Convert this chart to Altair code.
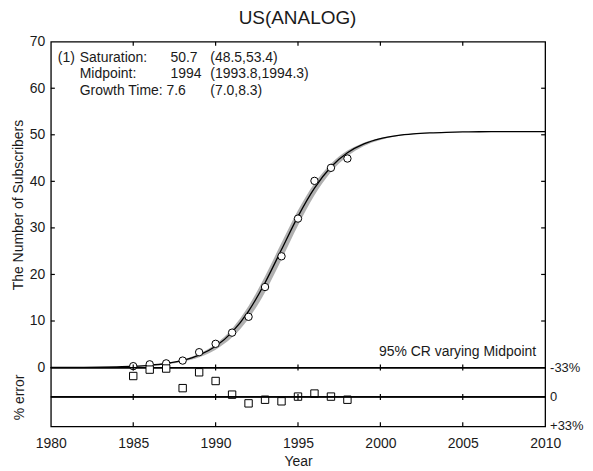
import altair as alt
import pandas as pd

# ---------------- data ----------------
years = [1985, 1986, 1987, 1988, 1989, 1990, 1991, 1992, 1993, 1994, 1995, 1996, 1997, 1998]
subscribers = [0.3, 0.7, 0.9, 1.5, 3.3, 5.1, 7.5, 10.9, 17.3, 23.9, 32.0, 40.1, 42.9, 44.9]
pct_error = [-23.5, -30.7, -31.9, -9.9, -27.7, -17.9, -2.6, 7.2, 3.1, 4.9, -0.4, -3.8, -0.4, 3.1]

curve_years = list(range(1980, 2011))
curve_vals = [0.02, 0.03, 0.05, 0.09, 0.16, 0.28, 0.49, 0.87, 1.53, 2.67, 4.57, 7.61, 12.13,
              18.23, 25.35, 32.48, 38.56, 43.08, 46.13, 48.03, 49.17, 49.83, 50.21, 50.42,
              50.54, 50.61, 50.65, 50.67, 50.69, 50.70, 50.70]
band_lo = [0.02, 0.03, 0.04, 0.07, 0.13, 0.23, 0.41, 0.72, 1.27, 2.23, 3.85, 6.49, 10.5,
           16.2, 23.2, 30.5, 37.0, 42.0, 45.4, 47.6, 48.9, 49.7, 50.13, 50.38,
           50.52, 50.60, 50.65, 50.67, 50.69, 50.70, 50.70]
band_hi = [0.02, 0.03, 0.06, 0.11, 0.17, 0.31, 0.55, 0.97, 1.70, 2.96, 5.05, 8.36, 13.2,
           19.6, 26.8, 33.8, 39.6, 43.8, 46.6, 48.3, 49.3, 49.9, 50.27, 50.46,
           50.56, 50.62, 50.66, 50.68, 50.69, 50.70, 50.70]

x_ticks = [1980, 1985, 1990, 1995, 2000, 2005, 2010]
y_ticks = [0, 10, 20, 30, 40, 50, 60, 70]
err_ticks = [-33, 0, 33]
err_labels = ["-33%", "0", "+33%"]

title_text = "US(ANALOG)"
param_names = ["Saturation:", "Midpoint:", "Growth Time:"]
param_values = ["50.7", "1994", "7.6"]
param_ranges = ["(48.5,53.4)", "(1993.8,1994.3)", "(7.0,8.3)"]
ci_note = "95% CR varying Midpoint"

FONT = "Liberation Sans"
TXT = "#1a1a1a"
FS = 14
FS_ANN = 14
W, H_TOP, H_BOT = 496, 327, 59

pts = pd.DataFrame({"year": years, "subs": subscribers, "err": pct_error})
curve = pd.DataFrame({"year": curve_years, "fit": curve_vals, "lo": band_lo, "hi": band_hi})
xt_in = pd.DataFrame({"year": x_ticks[1:-1]})
yt_in = pd.DataFrame({"v": y_ticks[1:-1]})
err_df = pd.DataFrame({"e": err_ticks, "lab": err_labels})

xs = alt.Scale(domain=[1980, 2010], nice=False, zero=False)
ys = alt.Scale(domain=[0, 70], nice=False)
es = alt.Scale(domain=[-33, 33], nice=False, reverse=True)

AX = dict(domain=False, grid=False, ticks=False, tickSize=0, labelFont=FONT,
          labelFontSize=FS, labelColor=TXT, titleFont=FONT, titleFontSize=FS,
          titleFontWeight="normal", titleColor=TXT, labelFlush=False, labelOverlap=False)

TICK = dict(color="black", thickness=1.2, opacity=1)

# ---------------- top panel ----------------
band = alt.Chart(curve).mark_area(color="#b0b0b0", interpolate="monotone").encode(
    x=alt.X("year:Q", scale=xs, axis=None),
    y=alt.Y("lo:Q", scale=ys,
            axis=alt.Axis(values=y_ticks, labelPadding=6, title="The Number of Subscribers",
                          titlePadding=4, **AX)),
    y2="hi:Q",
)
line = alt.Chart(curve).mark_line(color="black", strokeWidth=1.3, interpolate="monotone").encode(
    x=alt.X("year:Q", scale=xs),
    y=alt.Y("fit:Q", scale=ys),
)
circles = alt.Chart(pts).mark_circle(size=55, color="white", stroke="black",
                                     strokeWidth=1, opacity=1).encode(
    x=alt.X("year:Q", scale=xs),
    y=alt.Y("subs:Q", scale=ys),
)
top_ticks = alt.Chart(xt_in).mark_tick(orient="vertical", size=4, yOffset=2, **TICK).encode(
    x=alt.X("year:Q", scale=xs), y=alt.datum(70))
mid_ticks = alt.Chart(xt_in).mark_tick(orient="vertical", size=6, **TICK).encode(
    x=alt.X("year:Q", scale=xs), y=alt.datum(0))
left_ticks = alt.Chart(yt_in).mark_tick(orient="horizontal", size=4, xOffset=2, **TICK).encode(
    y=alt.Y("v:Q", scale=ys), x=alt.datum(1980))
right_ticks = alt.Chart(yt_in).mark_tick(orient="horizontal", size=4, xOffset=-2, **TICK).encode(
    y=alt.Y("v:Q", scale=ys), x=alt.datum(2010))

txt_base = dict(align="left", baseline="middle", font=FONT, fontSize=FS_ANN, color=TXT)
row_y = [16, 32.5, 49]
val_x = [120, 120, 116]
texts = [alt.Chart(pd.DataFrame({"t": ["(1)"]})).mark_text(**txt_base).encode(
    text="t:N", x=alt.value(7), y=alt.value(row_y[0]))]
for i in range(3):
    texts.append(alt.Chart(pd.DataFrame({"t": [param_names[i]]})).mark_text(**txt_base).encode(
        text="t:N", x=alt.value(29), y=alt.value(row_y[i])))
    texts.append(alt.Chart(pd.DataFrame({"t": [param_values[i]]})).mark_text(**txt_base).encode(
        text="t:N", x=alt.value(val_x[i]), y=alt.value(row_y[i])))
    texts.append(alt.Chart(pd.DataFrame({"t": [param_ranges[i]]})).mark_text(**txt_base).encode(
        text="t:N", x=alt.value(160), y=alt.value(row_y[i])))
note = alt.Chart(pd.DataFrame({"t": [ci_note]})).mark_text(
    align="right", baseline="middle", font=FONT, fontSize=FS_ANN, color=TXT).encode(
    text="t:N", x=alt.value(487), y=alt.value(311))

top = alt.layer(band, line, circles, top_ticks, mid_ticks, left_ticks, right_ticks,
                *texts, note).properties(width=W, height=H_TOP)

# ---------------- bottom panel ----------------
squares = alt.Chart(pts).mark_square(size=55, color="white", stroke="black",
                                     strokeWidth=1, opacity=1).encode(
    x=alt.X("year:Q", scale=xs,
            axis=alt.Axis(values=x_ticks, labelPadding=10, title="Year", titlePadding=4,
                          format="d", **AX)),
    y=alt.Y("err:Q", scale=es,
            axis=alt.Axis(values=[], labels=False, title="% error", titlePadding=24, **AX)),
)
zero = alt.Chart(err_df).mark_rule(color="black", strokeWidth=1.3).encode(
    y=alt.datum(0))
zticks = alt.Chart(xt_in).mark_tick(orient="vertical", size=6, **TICK).encode(
    x=alt.X("year:Q"), y=alt.datum(0))
bticks = alt.Chart(xt_in).mark_tick(orient="vertical", size=4, yOffset=-2, **TICK).encode(
    x=alt.X("year:Q"), y=alt.datum(33))
err_text = alt.Chart(err_df).mark_text(align="left", baseline="middle", font=FONT,
                                       fontSize=13, color=TXT).encode(
    y=alt.Y("e:Q"), x=alt.value(W + 5), text="lab:N")

bottom = alt.layer(squares, zero, zticks, bticks, err_text).properties(width=W, height=H_BOT)

chart = alt.vconcat(top, bottom, spacing=0, bounds="flush").properties(
    title=alt.TitleParams(title_text, font=FONT, fontSize=19, fontWeight="normal",
                          color=TXT, anchor="middle", offset=6),
    padding={"left": 2, "right": 0, "top": 0, "bottom": 0},
).configure_view(stroke="black", strokeWidth=1.3)

chart.save("out.html", embed_options={"renderer": "svg", "actions": False})
